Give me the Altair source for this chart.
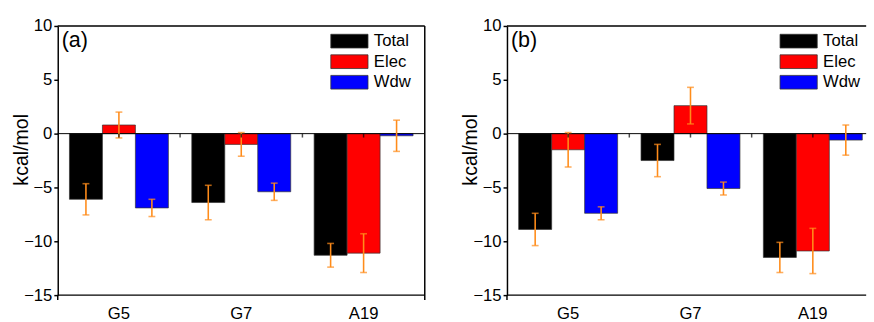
import altair as alt
import pandas as pd

# ---- data ----
groups = ["G5", "G7", "A19"]
series = ["Total", "Elec", "Wdw"]
colors = ["#000000", "#FF0000", "#0000FF"]

a_total = [-6.1, -6.4, -11.3]
a_elec = [0.8, -1.0, -11.1]
a_wdw = [-6.9, -5.4, -0.2]
a_total_err = [1.45, 1.6, 1.1]
a_elec_err = [1.2, 1.1, 1.8]
a_wdw_err = [0.8, 0.8, 1.45]

b_total = [-8.9, -2.5, -11.5]
b_elec = [-1.5, 2.6, -10.9]
b_wdw = [-7.4, -5.1, -0.6]
b_total_err = [1.5, 1.5, 1.4]
b_elec_err = [1.6, 1.7, 2.1]
b_wdw_err = [0.6, 0.6, 1.4]

y_ticks = [-15, -10, -5, 0, 5, 10]

FONT = "Liberation Sans"
ERR_COLOR = "#FF8C1A"
H = 275
STEP_RANGE = 375
LEG_TOP = 15.5
LEG_ROW = 21


def make_df(vals, errs):
    rows = []
    for s, v, e in zip(series, vals, errs):
        for g, vv, ee in zip(groups, v, e):
            rows.append({"group": g, "series": s, "value": vv, "err": ee,
                         "lo": vv - ee, "hi": vv + ee})
    return pd.DataFrame(rows)


def panel(df, label, width, show_right):
    xs = alt.Scale(domain=groups, range=[0, STEP_RANGE], paddingInner=0, paddingOuter=0)
    ys = alt.Scale(domain=[-15, 10], nice=False, zero=False)
    xo = alt.Scale(domain=series, paddingInner=0, paddingOuter=0.355)
    cs = alt.Scale(domain=series, range=colors)

    x_axis = alt.Axis(title=None, labelAngle=0, ticks=False, domain=False,
                      labelFontSize=17, labelFont=FONT, labelColor="#000",
                      labelPadding=11)
    y_axis = alt.Axis(values=y_ticks, title="kcal/mol", grid=False,
                      tickSize=4, tickWidth=1.5, tickColor="#000",
                      domainColor="#000", domainWidth=1.5,
                      labelFontSize=17, labelFont=FONT, labelColor="#000",
                      labelPadding=2,
                      titleFontSize=20, titleFont=FONT, titleFontWeight="normal",
                      titleColor="#000", titleX=-31, titleY=126,
                      titleAngle=270, titleBaseline="alphabetic")

    def X(**kw):
        return alt.X("group:N", scale=xs, sort=groups, axis=x_axis, **kw)

    def Y(field):
        return alt.Y(field, scale=ys, axis=y_axis)

    xoff = alt.XOffset("series:N", scale=xo, sort=series)
    color = alt.Color("series:N", scale=cs, sort=series, legend=None)

    bars = alt.Chart(df).mark_bar(stroke="#333333", strokeWidth=0.7).encode(
        x=X(), xOffset=xoff, y=Y("value:Q"), color=color)

    zero = alt.Chart(pd.DataFrame({"value": [0]})).mark_rule(color="#000", strokeWidth=1).encode(
        y=Y("value:Q"), x=alt.value(0), x2=alt.value(width))

    err = alt.Chart(df).mark_rule(color=ERR_COLOR, strokeWidth=1.6).encode(
        x=X(), xOffset=xoff, y=Y("lo:Q"), y2="hi:Q")
    cap_lo = alt.Chart(df).mark_tick(color=ERR_COLOR, orient="horizontal", size=7,
                                     thickness=1.6).encode(
        x=X(), xOffset=xoff, y=Y("lo:Q"))
    cap_hi = alt.Chart(df).mark_tick(color=ERR_COLOR, orient="horizontal", size=7,
                                     thickness=1.6).encode(
        x=X(), xOffset=xoff, y=Y("hi:Q"))

    gdf = pd.DataFrame({"group": groups, "value": [0] * len(groups)})
    ztick_c = alt.Chart(gdf).mark_tick(color="#000", orient="vertical", size=4,
                                       thickness=1.5, yOffset=2).encode(
        x=X(), y=Y("value:Q"))
    ztick_b = alt.Chart(gdf.iloc[1:]).mark_tick(color="#000", orient="vertical", size=4,
                                                thickness=1.5, yOffset=2).encode(
        x=X(bandPosition=0), y=Y("value:Q"))

    one = pd.DataFrame({"k": [0]})
    frame = [
        alt.Chart(one).mark_rule(color="#000", strokeWidth=1.5).encode(
            x=alt.value(0), x2=alt.value(width), y=alt.value(0)),
        alt.Chart(one).mark_rule(color="#000", strokeWidth=1.5).encode(
            x=alt.value(0), x2=alt.value(width), y=alt.value(H)),
        alt.Chart(one).mark_rule(color="#000", strokeWidth=1.5).encode(
            x=alt.value(0), y=alt.value(H), y2=alt.value(H + 5)),
    ]
    if show_right:
        frame.append(alt.Chart(one).mark_rule(color="#000", strokeWidth=1.5).encode(
            x=alt.value(width), y=alt.value(0), y2=alt.value(H + 5)))

    lab = alt.Chart(pd.DataFrame({"t": [label]})).mark_text(
        align="left", baseline="middle", fontSize=22, font=FONT, color="#000").encode(
        text="t:N", x=alt.value(4), y=alt.value(14))

    # legend drawn as marks, one row per series
    legend = []
    for i, s in enumerate(series):
        ldf = pd.DataFrame({"series": [s]})
        yv = alt.value(LEG_TOP + LEG_ROW * i)
        legend.append(alt.Chart(ldf).mark_rect(stroke="#333333", strokeWidth=0.8).encode(
            x=alt.value(279), x2=alt.value(317),
            y=alt.value(LEG_TOP + LEG_ROW * i - 7), y2=alt.value(LEG_TOP + LEG_ROW * i + 7),
            color=color))
        legend.append(alt.Chart(ldf).mark_text(align="left", baseline="middle", fontSize=17,
                                               font=FONT, color="#000").encode(
            x=alt.value(323), y=yv, text="series:N"))

    return alt.layer(bars, zero, err, cap_lo, cap_hi, ztick_c, ztick_b, lab,
                     *frame, *legend).properties(width=width, height=H)


pa = panel(make_df([a_total, a_elec, a_wdw], [a_total_err, a_elec_err, a_wdw_err]), "(a)", 375, True)
pb = panel(make_df([b_total, b_elec, b_wdw], [b_total_err, b_elec_err, b_wdw_err]), "(b)", 367, False)

chart = alt.hconcat(pa, pb, spacing=36).properties(
    padding={"left": 12, "top": 14, "right": 0, "bottom": 0},
    background="white",
).configure_view(stroke=None)

chart.save("out.html", embed_options={"renderer": "svg", "actions": False})
